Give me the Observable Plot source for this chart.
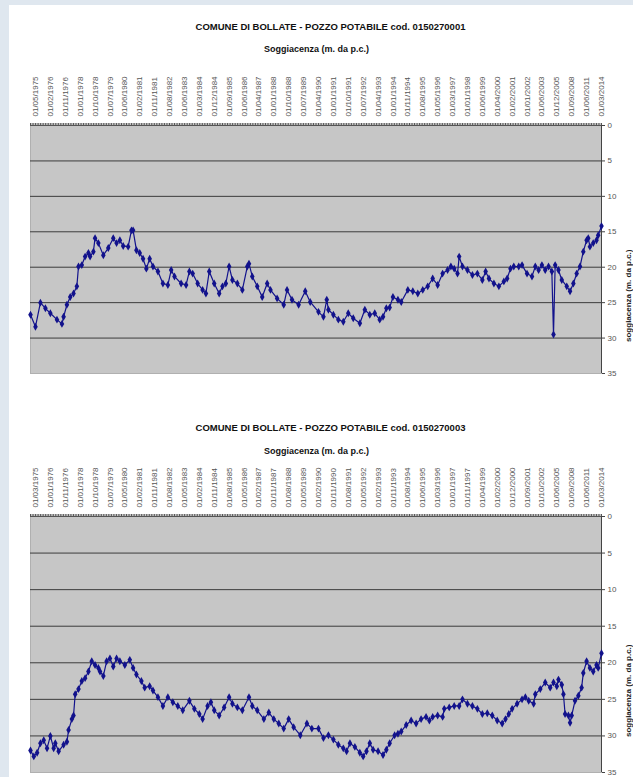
<!DOCTYPE html>
<html><head><meta charset="utf-8">
<script src="https://cdn.jsdelivr.net/npm/d3@7"></script>
<script src="https://cdn.jsdelivr.net/npm/@observablehq/plot@0.6"></script>
<style>
html,body{margin:0;padding:0;}
body{width:633px;height:777px;background:#dfe7ef;position:relative;overflow:hidden;font-family:"Liberation Sans",Arial,sans-serif;}
#page{position:absolute;left:9px;top:5px;width:624px;height:772px;background:#fff;}
.t{position:absolute;width:633px;text-align:center;font-weight:bold;color:#111;white-space:nowrap;}
.chart{position:absolute;left:0;}
</style></head>
<body>
<div id="page"></div>
<div class="t" style="left:14px;top:21px;font-size:9.5px">COMUNE DI BOLLATE - POZZO POTABILE cod. 0150270001</div>
<div class="t" style="left:0px;top:44px;font-size:9px">Soggiacenza (m. da p.c.)</div>
<div class="t" style="left:14px;top:422px;font-size:9.5px">COMUNE DI BOLLATE - POZZO POTABILE cod. 0150270003</div>
<div class="t" style="left:0px;top:446px;font-size:9px">Soggiacenza (m. da p.c.)</div>
<div id="c1" class="chart" style="top:60px"></div>
<div id="c2" class="chart" style="top:455px"></div>
<script>
// ---- data: category index (measurement number) and depth (m from ground level)
const labels1 = ["01/05/1975","01/02/1976","01/11/1976","01/01/1978","01/10/1978","01/07/1979","01/06/1980","01/02/1981","01/11/1981","01/08/1982","01/06/1983","01/03/1984","01/12/1984","01/09/1985","01/06/1986","01/04/1987","01/01/1988","01/10/1988","01/07/1989","01/04/1990","01/01/1991","01/10/1991","01/07/1992","01/04/1993","01/01/1994","01/11/1994","01/08/1995","01/05/1996","01/03/1997","01/01/1998","01/06/1999","01/04/2000","01/02/2001","01/01/2002","01/06/2003","01/12/2005","01/09/2008","01/06/2011","01/03/2014"];
const labels2 = ["01/03/1975","01/01/1976","01/11/1976","01/01/1978","01/10/1978","01/07/1979","01/05/1980","01/02/1981","01/11/1981","01/08/1982","01/05/1983","01/02/1984","01/11/1984","01/08/1985","01/05/1986","01/02/1987","01/11/1987","01/08/1988","01/05/1989","01/02/1990","01/11/1990","01/08/1991","01/05/1992","01/02/1993","01/11/1993","01/08/1994","01/06/1995","01/03/1996","01/01/1997","01/11/1997","01/04/1999","01/02/2000","01/12/2000","01/09/2001","01/10/2002","01/06/2005","01/09/2008","01/06/2011","01/03/2014"];

const cat1 = [-3,0,3,6,9,13,16,17,19,21,23,25,26,28,30,32,33,35,36,38,41,44,47,49,51,53,56,58,59,61,63,65,67,69,71,74,77,80,82,84,88,91,93,95,98,101,103,105,108,111,113,115,117,119,122,125,128,129,131,134,137,140,142,146,150,152,155,159,163,166,171,174,176,177,180,183,186,189,192,196,199,202,205,208,210,212,214,216,219,221,225,228,231,234,237,240,243,246,249,251,253,255,256,258,261,264,267,270,272,274,277,280,283,285,287,289,292,294,297,300,302,304,306,308,310,312,313,314,316,318,321,323,325,327,329,331,333,334,335,337,339,340,342];
const val1 = [26.7,28.4,25.0,25.8,26.5,27.4,28.0,27.0,25.3,24.2,23.7,22.7,19.9,19.7,18.5,18.0,18.5,17.8,15.9,16.6,18.3,17.3,15.9,16.6,16.2,17.0,17.1,14.8,14.8,17.6,18.0,18.8,20.2,18.8,19.9,20.6,22.3,22.5,20.4,21.3,22.3,22.5,20.6,20.9,22.3,23.2,23.7,20.6,22.3,23.7,22.7,22.3,19.9,21.8,22.3,23.2,19.9,19.5,21.3,22.7,24.2,22.3,23.2,24.4,25.3,23.2,24.6,25.3,23.4,24.9,26.3,27.0,24.6,26.0,26.7,27.4,27.7,26.5,27.2,27.9,26.0,26.7,26.5,27.4,27.0,25.8,25.7,24.2,24.6,24.9,23.2,23.4,23.7,23.2,22.7,21.6,22.5,20.9,20.4,19.9,20.2,20.9,18.5,19.9,20.4,21.1,20.9,21.8,20.6,21.6,22.3,22.7,22.0,21.6,20.2,19.9,19.9,19.7,20.9,21.3,19.9,20.4,19.7,20.4,19.9,20.6,29.5,19.7,20.4,21.8,22.7,23.4,22.3,20.9,19.9,17.8,16.2,15.9,17.1,16.6,16.2,15.5,14.2];

const cat2 = [-3,-1,1,3,5,7,9,11,12,14,17,19,20,22,23,24,26,28,30,32,34,36,38,39,41,43,45,47,49,51,54,57,59,61,64,66,69,71,74,77,80,83,86,89,93,96,99,101,104,106,108,111,114,117,119,122,125,129,131,134,138,141,144,147,150,153,156,160,164,167,171,174,177,180,183,186,188,190,193,196,198,200,202,204,207,210,212,214,217,219,221,224,227,230,233,236,238,240,243,246,247,250,253,256,258,261,264,267,270,273,276,279,282,284,286,288,291,294,296,298,301,302,305,308,311,313,315,316,318,319,320,322,323,324,326,328,330,331,333,335,337,339,340,342];
const val2 = [32.0,32.8,32.3,31.0,30.6,31.7,30.0,31.7,31.0,32.1,31.2,30.8,29.2,27.7,27.2,24.3,23.6,22.5,22.1,21.2,19.8,20.3,20.7,21.2,21.8,19.8,19.4,20.5,19.4,19.8,20.3,19.6,20.7,21.6,22.5,23.4,23.2,23.8,24.7,25.9,24.7,25.4,25.9,26.5,25.2,26.3,27.0,27.7,25.9,25.4,26.5,27.2,26.1,24.7,25.6,26.1,26.5,24.7,25.9,26.5,27.7,26.8,27.7,28.3,29.0,27.7,28.8,29.9,28.3,29.0,29.0,30.3,29.9,30.5,31.2,31.7,32.1,31.0,31.5,32.3,32.8,32.1,31.0,31.9,32.1,32.6,31.9,31.0,29.9,29.7,29.4,28.5,27.9,28.3,27.7,27.4,27.9,27.4,27.2,27.4,26.3,26.1,25.9,25.9,25.0,25.6,25.9,26.3,27.0,26.9,27.2,27.9,28.3,27.7,27.0,26.3,25.6,25.0,24.7,25.2,25.6,24.3,23.6,22.7,23.4,22.7,23.2,22.3,23.0,24.3,27.0,27.2,28.2,27.2,25.2,24.5,23.4,21.4,19.8,20.7,21.2,20.3,20.7,18.7];

const yTicks = [0,5,10,15,20,25,30,35];
const gridVals = [5,10,15,20,25,30];
const yTitle = "soggiacenza (m. da p.c.)";
const labelStep = 9;      // one date label every 9 measurements
const xMin = -3, xMax = 342;

function makeChart(cats, vals, labels, cfg) {
  const data = cats.map((c, i) => ({c, v: vals[i]}));
  const labelMap = new Map(labels.map((l, i) => [i * labelStep, l]));
  const navy = "#12128c";
  return Plot.plot({
    width: 633, height: cfg.height,
    marginLeft: 30, marginRight: 32, marginTop: cfg.mt, marginBottom: cfg.mb,
    style: {fontFamily: '"Liberation Sans", Arial, sans-serif', fontSize: "8px", background: "transparent", overflow: "visible"},
    x: {domain: [xMin, xMax], axis: null},
    y: {domain: [0, 35], reverse: true, axis: null},
    marks: [
      Plot.frame({fill: "#c6c6c6", stroke: "#b0b0b0"}),
      Plot.ruleY(gridVals, {stroke: "#3c3c3c", strokeWidth: 1}),
      Plot.ruleY([0], {stroke: "#555"}),
      Plot.axisX({anchor: "top", ticks: d3.range(xMin, xMax + 1), tickSize: 3, tickFormat: () => "", stroke: "#555", label: null}),
      Plot.axisX({anchor: "top", ticks: [...labelMap.keys()], tickFormat: d => labelMap.get(d), tickRotate: -90, tickSize: 0, tickPadding: cfg.pad, fill: "#555", label: null}),
      Plot.ruleX([xMax], {stroke: "#444"}),
      Plot.axisY({anchor: "right", ticks: yTicks, tickSize: 3, tickPadding: 3, label: null, fill: "#555", stroke: "#444"}),
      Plot.line(data, {x: "c", y: "v", stroke: navy, strokeWidth: 1.2}),
      Plot.dot(data, {x: "c", y: "v", symbol: "diamond", r: 2.4, fill: navy, stroke: null}),
      Plot.text([yTitle], {frameAnchor: "right", dx: 27, rotate: -90, fontWeight: "bold", fontSize: 8, fill: "#222"})
    ]
  });
}

document.getElementById("c1").append(makeChart(cat1, val1, labels1, {height: 320, mt: 65, mb: 7, pad: 9}));
document.getElementById("c2").append(makeChart(cat2, val2, labels2, {height: 322, mt: 61, mb: 5, pad: 9}));
</script>
</body></html>
